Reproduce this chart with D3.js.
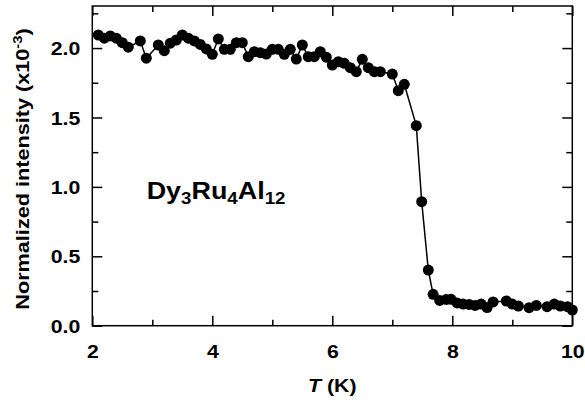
<!DOCTYPE html>
<html>
<head>
<meta charset="utf-8">
<script src="https://cdn.jsdelivr.net/npm/d3@7/dist/d3.min.js"></script>
<style>
  body { margin: 0; background: #fff; }
  text { font-family: "Liberation Sans", Arial, sans-serif; font-weight: bold; fill: #000; }
</style>
</head>
<body>
<svg id="chart" width="585" height="409"></svg>
<script>

// T (K) and normalized intensity (x10^-3)
var temps = [2.1, 2.2, 2.3, 2.4, 2.5, 2.6, 2.8, 2.9, 3.1, 3.2, 3.3, 3.4, 3.5, 3.6, 3.7, 3.8, 3.9,
  4.0, 4.1, 4.2, 4.3, 4.4, 4.5, 4.6, 4.7, 4.8, 4.9, 5.0, 5.1, 5.2, 5.3, 5.4, 5.5, 5.6, 5.7, 5.8, 5.9,
  6.0, 6.1, 6.2, 6.3, 6.4, 6.5, 6.6, 6.7, 6.8, 7.0, 7.1, 7.2, 7.4, 7.49, 7.6, 7.68, 7.79, 7.9, 7.98,
  8.08, 8.18, 8.28, 8.38, 8.48, 8.58, 8.68, 8.9, 9.0, 9.1, 9.28, 9.4, 9.58, 9.7, 9.8, 9.92, 10.0];
var intensity = [2.094, 2.071, 2.087, 2.071, 2.039, 2.006, 2.051, 1.927, 2.022, 1.981, 2.035, 2.058, 2.094, 2.071, 2.051, 2.026, 1.994,
  1.955, 2.066, 1.991, 1.991, 2.039, 2.039, 1.938, 1.974, 1.967, 1.957, 1.991, 1.991, 1.955, 1.991, 1.921, 2.022, 1.938, 1.938, 1.974, 1.934,
  1.878, 1.902, 1.890, 1.859, 1.830, 1.919, 1.859, 1.830, 1.830, 1.813, 1.693, 1.739, 1.441, 0.893, 0.401, 0.226, 0.182, 0.189, 0.190,
  0.164, 0.156, 0.153, 0.146, 0.156, 0.131, 0.171, 0.178, 0.156, 0.142, 0.130, 0.146, 0.137, 0.156, 0.142, 0.137, 0.113];

var xMajor = [2, 4, 6, 8, 10];
var xMinor = [3, 5, 7, 9];
var yMajor = [0, 0.5, 1.0, 1.5, 2.0];
var yMinor = [0.25, 0.75, 1.25, 1.75, 2.25];

var svg = d3.select('#chart'),
    margin = {top: 6, right: 12.7, bottom: 83.3, left: 92.3},
    width = 585 - margin.left - margin.right,
    height = 409 - margin.top - margin.bottom;

var g = svg.append('g').attr('transform', 'translate(' + margin.left + ',' + margin.top + ')');

var x = d3.scaleLinear().domain([2, 10]).range([0, width]);
var y = d3.scaleLinear().domain([0, 2.303]).range([height, 0]);

var fontSize = 19, stretch = 1.12;

function styleAxis(sel) {
  sel.select('.domain').remove();
  sel.selectAll('.tick line').attr('stroke', '#000').attr('stroke-width', 1.5);
}

// major ticks with labels, all pointing inward
g.append('g').attr('transform', 'translate(0,' + height + ')')
  .call(d3.axisBottom(x).tickValues(xMajor).tickSize(-10).tickPadding(0).tickFormat(d3.format('d')))
  .call(styleAxis)
  .call(function(a) {
    a.selectAll('.tick text').attr('dy', null).attr('y', 32)
      .attr('font-size', fontSize).attr('transform', 'scale(' + stretch + ',1)')
      .attr('x', 0);
  });
g.append('g').attr('transform', 'translate(0,' + height + ')')
  .call(d3.axisBottom(x).tickValues(xMinor).tickSize(-6).tickFormat(''))
  .call(styleAxis);
g.append('g')
  .call(d3.axisTop(x).tickValues(xMajor).tickSize(-10).tickFormat(''))
  .call(styleAxis);
g.append('g')
  .call(d3.axisTop(x).tickValues(xMinor).tickSize(-6).tickFormat(''))
  .call(styleAxis);

g.append('g')
  .call(d3.axisLeft(y).tickValues(yMajor).tickSize(-10).tickPadding(0).tickFormat(d3.format('.1f')))
  .call(styleAxis)
  .call(function(a) {
    a.selectAll('.tick text').attr('dy', null).attr('y', 6.6).attr('x', null)
      .attr('font-size', fontSize).attr('text-anchor', 'end')
      .attr('transform', 'translate(-12,0) scale(' + stretch + ',1)');
  });
g.append('g')
  .call(d3.axisLeft(y).tickValues(yMinor).tickSize(-6).tickFormat(''))
  .call(styleAxis);
g.append('g').attr('transform', 'translate(' + width + ',0)')
  .call(d3.axisRight(y).tickValues(yMajor).tickSize(-10).tickFormat(''))
  .call(styleAxis);
g.append('g').attr('transform', 'translate(' + width + ',0)')
  .call(d3.axisRight(y).tickValues(yMinor).tickSize(-6).tickFormat(''))
  .call(styleAxis);

// frame
g.append('rect').attr('width', width).attr('height', height)
  .attr('fill', 'none').attr('stroke', '#000').attr('stroke-width', 1.5);

// data line and markers
var pts = temps.map(function(t, i) { return [t, intensity[i]]; });
g.append('path').datum(pts)
  .attr('fill', 'none').attr('stroke', '#000').attr('stroke-width', 1.5)
  .attr('d', d3.line().x(function(d) { return x(d[0]); }).y(function(d) { return y(d[1]); }));
g.selectAll('circle.pt').data(pts).enter().append('circle')
  .attr('class', 'pt')
  .attr('cx', function(d) { return x(d[0]); })
  .attr('cy', function(d) { return y(d[1]); })
  .attr('r', 5.5).attr('fill', '#000');

// compound label
var lab = svg.append('text').attr('font-size', 23)
  .attr('transform', 'translate(146.7,199) scale(1.17,1)');
[['Dy', false], ['3', true], ['Ru', false], ['4', true], ['Al', false], ['12', true]].forEach(function(p) {
  lab.append('tspan').text(p[0])
    .attr('font-size', p[1] ? 16 : 23)
    .attr('dy', p[1] ? 5 : -5);
});
lab.select('tspan').attr('dy', 0);

// axis titles
var xt = svg.append('text').attr('text-anchor', 'middle')
  .attr('font-size', fontSize)
  .attr('transform', 'translate(' + (margin.left + width / 2) + ',392) scale(' + stretch + ',1)');
xt.append('tspan').attr('font-style', 'italic').text('T');
xt.append('tspan').text(' (K)');

var yt = svg.append('text').attr('text-anchor', 'middle')
  .attr('font-size', fontSize)
  .attr('transform', 'translate(29,169) rotate(-90) scale(1.14,1)');
yt.append('tspan').text('Normalized intensity (x10');
yt.append('tspan').attr('font-size', 13).attr('dy', -7).text('-3');
yt.append('tspan').attr('dy', 7).text(')');

</script>
</body>
</html>
